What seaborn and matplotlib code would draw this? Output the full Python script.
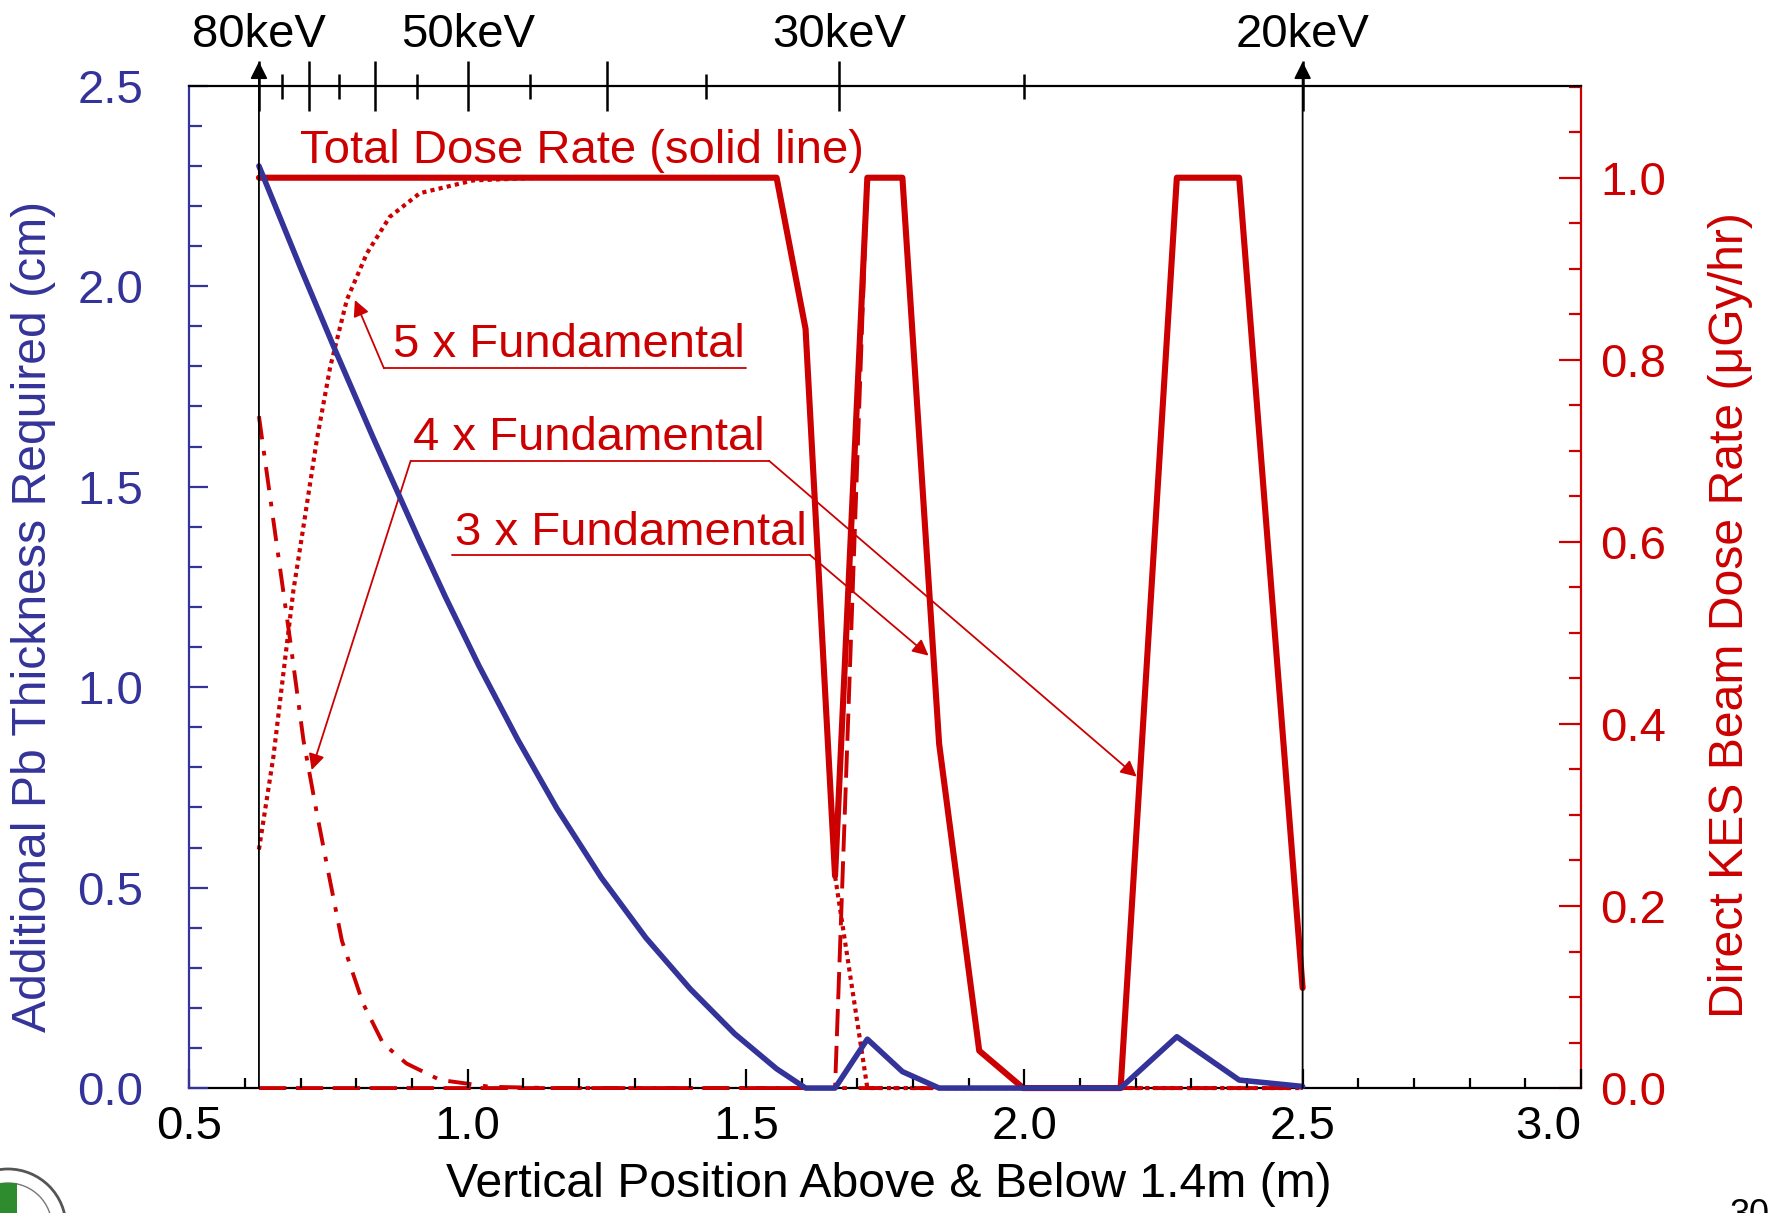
import matplotlib
matplotlib.use("Agg")
import matplotlib.pyplot as plt
from matplotlib.patches import Circle, Rectangle
from matplotlib.ticker import MultipleLocator, FixedLocator, FixedFormatter
import seaborn as sns

# ---- data --------------------------------------------------------------
# Additional Pb thickness (cm), left axis
pb_pos = [0.625, 0.70, 0.76, 0.83, 0.914, 0.96, 1.02, 1.09, 1.16, 1.24,
          1.32, 1.40, 1.48, 1.555, 1.607, 1.660, 1.718, 1.781, 1.847, 1.998,
          2.173, 2.274, 2.386, 2.5]
pb_cm = [2.30, 2.045, 1.847, 1.623, 1.363, 1.225, 1.054, 0.869, 0.698, 0.525,
         0.375, 0.247, 0.135, 0.048, 0.0, 0.0, 0.122, 0.041, 0.0, 0.0,
         0.0, 0.128, 0.02, 0.004]

# Direct KES beam dose rate (uGy/hr), right axis
total_pos = [0.625, 1.555, 1.607, 1.660, 1.718, 1.781, 1.847, 1.919, 1.998,
             2.173, 2.274, 2.386, 2.5]
total_dose = [1.0, 1.0, 0.834, 0.233, 1.0, 1.0, 0.378, 0.041, 0.0,
              0.0, 1.0, 1.0, 0.11]

fund5_pos = [0.625, 0.651, 0.669, 0.687, 0.702, 0.729, 0.753, 0.783, 0.819,
             0.860, 0.914, 1.010, 1.13, 1.555, 1.607, 1.660, 1.718, 2.5]
fund5_dose = [0.262, 0.364, 0.456, 0.547, 0.605, 0.712, 0.792, 0.866, 0.917,
              0.957, 0.983, 0.997, 1.0, 1.0, 0.834, 0.233, 0.0, 0.0]

fund4_pos = [0.625, 0.654, 0.681, 0.705, 0.729, 0.750, 0.774, 0.812, 0.848,
             0.890, 0.950, 1.040, 1.15, 2.173, 2.274, 2.386, 2.5]
fund4_dose = [0.738, 0.61, 0.492, 0.382, 0.302, 0.236, 0.162, 0.093, 0.049,
              0.027, 0.009, 0.0014, 0.0, 0.0, 1.0, 1.0, 0.11]

fund3_pos = [0.625, 1.660, 1.718, 1.781, 1.847, 1.919, 1.998, 2.5]
fund3_dose = [0.0, 0.0, 1.0, 1.0, 0.378, 0.041, 0.0, 0.0]

# top energy scale (position [m] * energy [keV] ~ 50)
KEV_M = 50.0
kev_major = [80, 70, 60, 50, 40, 30, 20]
kev_labels = ["80keV", "", "", "50keV", "", "30keV", "20keV"]
kev_minor = [75, 65, 55, 45, 35, 25]
kev_arrows = [80, 20]

BLUE = "#333399"
RED = "#cc0000"
FS = 34
FS_LABEL = 34.7

sns.set_theme(style="white")
plt.rcParams["font.family"] = ["Liberation Sans", "DejaVu Sans"]

fig = plt.figure(figsize=(17.68, 12.13), dpi=100)
ax = fig.add_axes([0.1071, 0.1030, 0.7871, 0.8263])
axr = ax.twinx()
ax.set_zorder(axr.get_zorder() + 1)
ax.patch.set_visible(False)

# red dose curves on the right axis
line_kw = dict(ax=axr, color=RED, estimator=None, clip_on=False, zorder=3)
sns.lineplot(x=fund5_pos, y=fund5_dose, lw=3.0, linestyle=(0, (1, 1)), **line_kw)
sns.lineplot(x=fund4_pos, y=fund4_dose, lw=2.8, linestyle=(0, (6, 3, 1.2, 3)), **line_kw)
sns.lineplot(x=fund3_pos, y=fund3_dose, lw=2.8, linestyle=(0, (7, 2.5)), **line_kw)
sns.lineplot(x=total_pos, y=total_dose, lw=4.4, **line_kw)

# blue thickness curve on the left axis
sns.lineplot(x=pb_pos, y=pb_cm, ax=ax, color=BLUE, lw=4.0, estimator=None,
             clip_on=False, zorder=4)

ax.set_xlim(0.5, 3.0)
ax.set_ylim(0, 2.5)
axr.set_ylim(0, 1.101)

# spines
for a in (ax, axr):
    for s in a.spines.values():
        s.set_linewidth(1.6)
ax.spines["left"].set_color(BLUE)
ax.spines["right"].set_visible(False)
ax.spines["top"].set_visible(False)
ax.spines["bottom"].set_visible(False)
axr.spines["right"].set_color(RED)
axr.spines["left"].set_visible(False)
axr.spines["top"].set_visible(False)
axr.spines["bottom"].set_color("black")

# ticks
ax.xaxis.set_major_locator(MultipleLocator(0.5))
ax.xaxis.set_minor_locator(MultipleLocator(0.1))
ax.yaxis.set_major_locator(MultipleLocator(0.5))
ax.yaxis.set_minor_locator(MultipleLocator(0.1))
ax.xaxis.set_major_formatter(plt.FormatStrFormatter("%.1f"))
ax.yaxis.set_major_formatter(plt.FormatStrFormatter("%.1f"))
ax.tick_params(axis="x", which="both", direction="in", bottom=True, top=False,
               colors="black", labelsize=FS, pad=12, width=1.6)
ax.tick_params(axis="x", which="major", length=14)
ax.tick_params(axis="x", which="minor", length=7)
ax.tick_params(axis="y", which="both", direction="in", left=True, right=False,
               colors=BLUE, labelsize=FS, pad=33, width=1.6)
ax.tick_params(axis="y", which="major", length=14)
ax.tick_params(axis="y", which="minor", length=9)

axr.yaxis.set_major_locator(FixedLocator([0.0, 0.2, 0.4, 0.6, 0.8, 1.0]))
axr.yaxis.set_minor_locator(MultipleLocator(0.05))
axr.yaxis.set_major_formatter(plt.FormatStrFormatter("%.1f"))
axr.tick_params(axis="y", which="both", direction="in", right=True, left=False,
                colors=RED, labelsize=FS, pad=14, width=1.6)
axr.tick_params(axis="y", which="major", length=16)
axr.tick_params(axis="y", which="minor", length=9)
axr.tick_params(axis="x", which="both", bottom=False, top=False,
                labelbottom=False)

# top keV scale
axt = ax.twiny()
axt.set_xlim(ax.get_xlim())
for side in ("left", "right", "bottom"):
    axt.spines[side].set_visible(False)
axt.spines["top"].set_color("black")
axt.spines["top"].set_linewidth(1.6)
axt.xaxis.set_major_locator(FixedLocator([KEV_M / e for e in kev_major]))
axt.xaxis.set_major_formatter(FixedFormatter(kev_labels))
axt.xaxis.set_minor_locator(FixedLocator([KEV_M / e for e in kev_minor]))
axt.tick_params(axis="x", which="both", direction="inout", colors="black",
                labelsize=FS, width=1.8, pad=3)
axt.tick_params(axis="x", which="major", length=36)
axt.tick_params(axis="x", which="minor", length=18)
axt.tick_params(axis="y", left=False, right=False, labelleft=False)

# vertical marker arrows at 80 keV and 20 keV
for e in kev_arrows:
    ax.annotate("", xy=(KEV_M / e, 1.024), xycoords=("data", "axes fraction"),
                xytext=(KEV_M / e, 0.0), textcoords=("data", "axes fraction"),
                arrowprops=dict(arrowstyle="-|>", color="black", lw=1.3,
                                mutation_scale=26, shrinkA=0, shrinkB=0),
                zorder=5)

# labels
ax.set_xlabel("Vertical Position Above & Below 1.4m (m)", fontsize=FS_LABEL,
              color="black", va="center")
ax.xaxis.set_label_coords(0.5024, -0.0965)
ax.set_ylabel("Additional Pb Thickness Required (cm)", fontsize=FS_LABEL,
              color=BLUE, va="center", ha="center")
ax.yaxis.set_label_coords(-0.1117, 0.471)
axr.set_ylabel("Direct KES Beam Dose Rate (\u03bcGy/hr)", fontsize=FS_LABEL,
               color=RED, va="center", ha="center", rotation=90)
axr.yaxis.set_label_coords(1.1075, 0.472)

# callouts (right-axis data coordinates)
arrow_kw = dict(arrowstyle="-|>", color=RED, lw=1.3, mutation_scale=24,
                shrinkA=0, shrinkB=0)
axr.text(0.699, 1.0165, "Total Dose Rate (solid line)", color=RED,
         fontsize=FS, ha="left", va="baseline")

callouts = [
    ("5 x Fundamental", (0.866, 0.803), 0.7906, (0.8496, 1.5009),
     [((0.8496, 0.7906), (0.7974, 0.8656))]),
    ("4 x Fundamental", (0.902, 0.701), 0.6891, (0.8976, 1.5413),
     [((0.8976, 0.6891), (0.7197, 0.3493)),
      ((1.5413, 0.6891), (2.2019, 0.342))]),
    ("3 x Fundamental", (0.977, 0.597), 0.5855, (0.9713, 1.615),
     [((1.615, 0.5855), (1.828, 0.475))]),
]
for text, (tx, ty), uy, (ux0, ux1), arrows in callouts:
    axr.text(tx, ty, text, color=RED, fontsize=FS, ha="left", va="baseline")
    axr.plot([ux0, ux1], [uy, uy], color=RED, lw=1.3)
    for start, end in arrows:
        axr.annotate("", xy=end, xytext=start, arrowprops=arrow_kw)

# the last bottom tick label sits left of its tick, clear of the red 0.0
fig.canvas.draw()
ax.xaxis.get_major_ticks()[-1].label1.set_horizontalalignment("right")
for t in ax.xaxis.get_major_ticks():
    if abs(t.get_loc() - 3.0) < 1e-6:
        t.label1.set_horizontalalignment("right")

# page number and seal, both cut off at the page edge
fig.text(1730 / 1768, 1 - 1198 / 1213, "30", fontsize=26, color="black",
         ha="left", va="top")
fig.add_artist(Circle((8, -14), 58, transform=None, facecolor="white",
                      edgecolor="#555555", lw=2.0))
fig.add_artist(Circle((8, -14), 44, transform=None, facecolor="none",
                      edgecolor="#777777", lw=1.0))
fig.add_artist(Rectangle((0, 0), 17, 30, transform=None, facecolor="#2e8b2e",
                         edgecolor="none"))

fig.savefig("out.png", dpi=100)
